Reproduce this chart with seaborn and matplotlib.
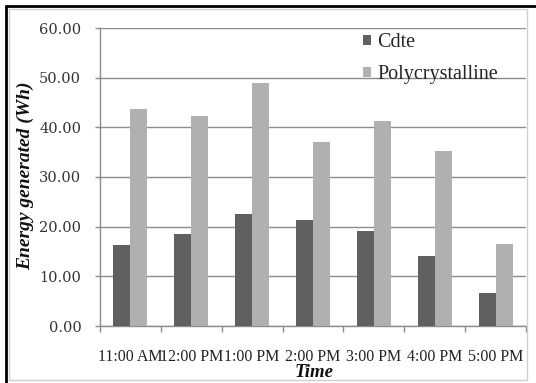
import matplotlib
matplotlib.use("Agg")
import matplotlib.pyplot as plt
import seaborn as sns
import pandas as pd
from matplotlib.patches import Rectangle
from matplotlib.lines import Line2D

times = ["11:00 AM", "12:00 PM", "1:00 PM", "2:00 PM", "3:00 PM", "4:00 PM", "5:00 PM"]
cdte = [16.3, 18.6, 22.5, 21.3, 19.2, 14.0, 6.7]
poly = [43.7, 42.3, 48.9, 37.1, 41.3, 35.3, 16.6]
series = ["Cdte", "Polycrystalline"]
colors = ["#606060", "#b0b0b0"]
yticks = [0, 10, 20, 30, 40, 50, 60]

df = pd.DataFrame({
    "Time": times * 2,
    "Energy": cdte + poly,
    "Series": [series[0]] * len(times) + [series[1]] * len(times),
})

sns.set_theme(style="white")
plt.rcParams["font.family"] = ["Liberation Serif", "DejaVu Serif"]

fig = plt.figure(figsize=(5.36, 3.83), dpi=100)
ax = fig.add_axes([100/536, 1-326/383, 426/536, 298/383])

sns.barplot(data=df, x="Time", y="Energy", hue="Series", order=times,
            hue_order=series, palette=colors, width=0.56, gap=0,
            saturation=1, linewidth=0, ax=ax, zorder=3)

ax.set_ylim(0, 60)
ax.set_xlim(-0.5, len(times) - 0.5)
ax.set_yticks(yticks)
ax.set_yticklabels([f"{v:.2f}" for v in yticks], family="DejaVu Serif",
                   fontsize=10.5, color="#333333")
ax.yaxis.grid(True, color="#8c8c8c", linewidth=1.0, zorder=0)
ax.set_axisbelow(True)

ax.set_xticks(range(len(times)))
ax.set_xticklabels(times, fontsize=11.5, color="#222222")
ax.set_xticks([i - 0.5 for i in range(len(times) + 1)], minor=True)
ax.tick_params(axis="x", which="major", length=0, pad=16.5)
ax.tick_params(axis="x", which="minor", length=4, color="#8c8c8c", width=1, bottom=True)
ax.tick_params(axis="y", which="major", length=3.5, color="#8c8c8c", width=1, pad=10, left=True)

for s in ["top", "right"]:
    ax.spines[s].set_visible(False)
for s in ["left", "bottom"]:
    ax.spines[s].set_color("#8c8c8c")
    ax.spines[s].set_linewidth(1)

ax.set_xlabel("")
ax.set_ylabel("")
fig.text(25/536, 1-176/383, "Energy generated (Wh)", rotation=90, ha="center", va="center",
         fontsize=14, fontweight="bold", fontstyle="italic", color="#111111")
fig.text(314/536, 2/383, "Time", ha="center", va="bottom",
         fontsize=13.5, fontweight="bold", fontstyle="italic", color="#111111")

handles, labels = ax.get_legend_handles_labels()
ax.legend(handles, labels, loc="upper left", bbox_to_anchor=(363/536, 1-33/383),
          bbox_transform=fig.transFigure, frameon=False, fontsize=14.5,
          handlelength=0.4, handleheight=0.4, handletextpad=0.3,
          borderpad=0, borderaxespad=0, labelspacing=0.65)

# outer frame
fig.add_artist(Rectangle((9/536, 3/383), 518/536, 371/383, transform=fig.transFigure,
                         fill=False, edgecolor="#d0d0d0", linewidth=1))
fig.add_artist(Line2D([6/536, 1], [1-6/383, 1-6/383], transform=fig.transFigure,
                      color="black", linewidth=2))
fig.add_artist(Line2D([6/536, 6/536], [0, 1-6/383], transform=fig.transFigure,
                      color="black", linewidth=2))

fig.savefig("out.png", dpi=100)
